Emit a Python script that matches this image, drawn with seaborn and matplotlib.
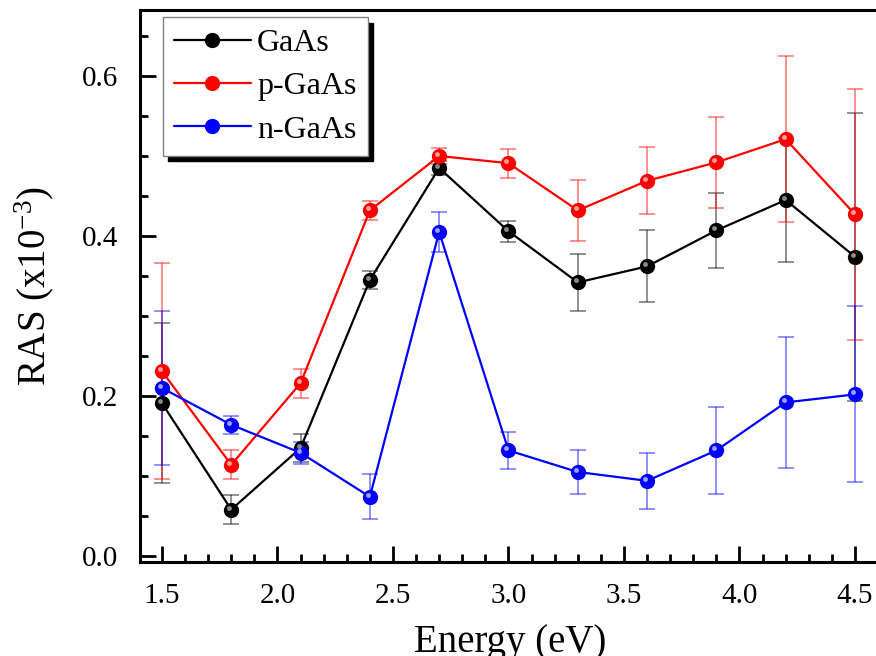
import matplotlib
matplotlib.use("Agg")
import matplotlib.pyplot as plt
import matplotlib.transforms as mtransforms
from matplotlib.lines import Line2D
from matplotlib.ticker import MultipleLocator, FormatStrFormatter
import seaborn as sns
import pandas as pd

energy = [1.5, 1.8, 2.1, 2.4, 2.7, 3.0, 3.3, 3.6, 3.9, 4.2, 4.5]
gaas = [0.191, 0.058, 0.135, 0.345, 0.485, 0.406, 0.342, 0.362, 0.407, 0.445, 0.374]
gaas_err = [0.100, 0.018, 0.017, 0.011, 0.009, 0.013, 0.036, 0.045, 0.047, 0.078, 0.180]
pgaas = [0.231, 0.114, 0.216, 0.432, 0.500, 0.491, 0.432, 0.469, 0.492, 0.521, 0.427]
pgaas_err = [0.135, 0.018, 0.018, 0.012, 0.010, 0.018, 0.038, 0.042, 0.057, 0.104, 0.157]
ngaas = [0.210, 0.164, 0.129, 0.074, 0.405, 0.132, 0.105, 0.094, 0.132, 0.192, 0.202]
ngaas_err = [0.096, 0.011, 0.014, 0.028, 0.025, 0.023, 0.028, 0.035, 0.054, 0.082, 0.110]
labels = ["GaAs", "p-GaAs", "n-GaAs"]
colors = ["#000000", "#ff0000", "#0000ff"]
highlights = ["#8a8a8a", "#ffa0a0", "#a0a0ff"]

series = [(gaas, gaas_err), (pgaas, pgaas_err), (ngaas, ngaas_err)]
df = pd.concat([
    pd.DataFrame({"Energy": energy, "RAS": v, "err": e, "sample": lab})
    for (v, e), lab in zip(series, labels)
], ignore_index=True)

sns.set_theme(style="ticks", rc={
    "axes.edgecolor": "black", "xtick.color": "black", "ytick.color": "black",
    "text.color": "black", "axes.labelcolor": "black",
})
plt.rcParams["font.family"] = ["Liberation Serif", "DejaVu Serif"]
plt.rcParams["mathtext.fontset"] = "custom"
plt.rcParams["mathtext.rm"] = "Liberation Serif"
plt.rcParams["mathtext.it"] = "Liberation Serif:italic"

fig = plt.figure(figsize=(8.76, 6.56), dpi=100)
ax = fig.add_axes([140 / 876, (656 - 562) / 656, (880 - 140) / 876, (562 - 10) / 656])

for lab, col in zip(labels, colors):
    sub = df[df["sample"] == lab]
    ax.errorbar(sub["Energy"], sub["RAS"], yerr=sub["err"], fmt="none",
                ecolor=col, alpha=0.55, elinewidth=1.1, capsize=6, capthick=1.1,
                zorder=1)

sns.lineplot(data=df, x="Energy", y="RAS", hue="sample", palette=colors,
             hue_order=labels, sort=False, ax=ax, linewidth=1.6,
             marker="o", markersize=11, markeredgewidth=0, legend=False,
             zorder=3)

hl_trans = mtransforms.offset_copy(ax.transData, fig=fig, x=-2.0, y=2.0, units="dots")
for lab, hcol in zip(labels, highlights):
    sub = df[df["sample"] == lab]
    ax.plot(sub["Energy"], sub["RAS"], linestyle="none", marker="o",
            markersize=3.5, color=hcol, markeredgewidth=0, transform=hl_trans,
            zorder=4)

ax.set_xlim(1.405, 1.5 + (880 - 162) / 231)
ax.set_ylim(-0.0075, 0.6825)
ax.xaxis.set_major_locator(MultipleLocator(0.5))
ax.xaxis.set_minor_locator(MultipleLocator(0.1))
ax.yaxis.set_major_locator(MultipleLocator(0.2))
ax.yaxis.set_minor_locator(MultipleLocator(0.05))
ax.xaxis.set_major_formatter(FormatStrFormatter("%.1f"))
ax.yaxis.set_major_formatter(FormatStrFormatter("%.1f"))
ax.tick_params(which="both", direction="in", width=2.0, top=False, right=False)
ax.tick_params(which="major", length=11.5, labelsize=21)
ax.tick_params(axis="x", which="major", pad=15)
ax.tick_params(axis="y", which="major", pad=16)
ax.tick_params(which="minor", length=5.8)
for s in ax.spines.values():
    s.set_linewidth(2.2)

ax.set_xlabel("Energy (eV)", fontsize=28, labelpad=11)
ax.set_ylabel("RAS (x10$^{-3}$)", fontsize=28, labelpad=18)

handles = [Line2D([0], [0], color=c, linewidth=1.6, marker="o", markersize=11,
                  markeredgewidth=0) for c in colors]
leg = ax.legend(handles, labels, loc="upper left",
                bbox_to_anchor=(0.031, 0.987), borderaxespad=0,
                fontsize=23, frameon=True, fancybox=False,
                handlelength=2.4, handletextpad=0.2, labelspacing=0.44,
                borderpad=0.35,
                shadow={"ox": 4, "oy": -4, "color": "black", "alpha": 1})
leg.get_frame().set_edgecolor("#808080")
leg.get_frame().set_linewidth(1.0)
leg.get_frame().set_alpha(1)

fig.savefig("out.png", dpi=100)
